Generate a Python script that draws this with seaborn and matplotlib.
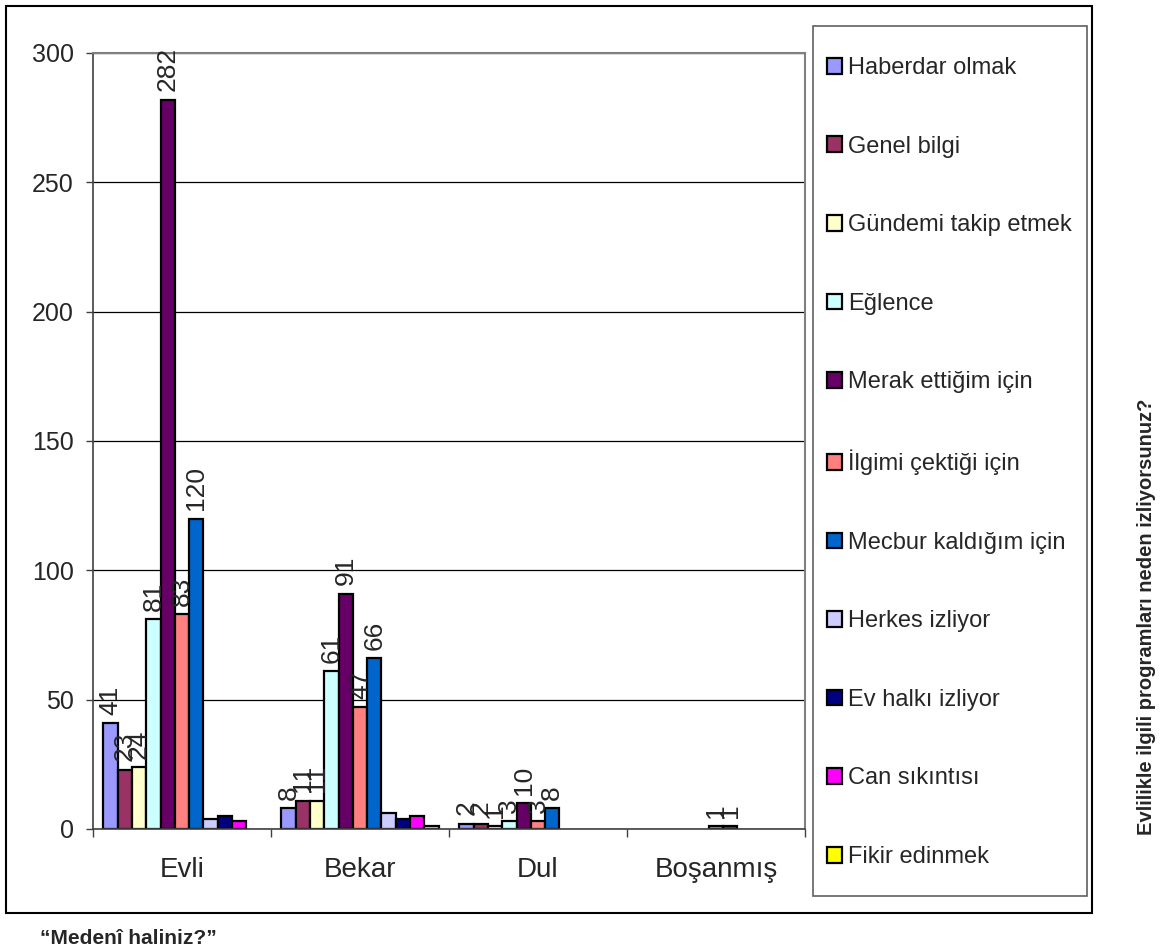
import pandas as pd
import numpy as np
import matplotlib
matplotlib.use("Agg")
import matplotlib.pyplot as plt
import seaborn as sns
from matplotlib.patches import Patch, Rectangle

# Categories (marital status) and answer series
groups = ["Evli", "Bekar", "Dul", "Boşanmış"]
reasons = ["Haberdar olmak", "Genel bilgi", "Gündemi takip etmek", "Eğlence",
           "Merak ettiğim için", "İlgimi çektiği için", "Mecbur kaldığım için",
           "Herkes izliyor", "Ev halkı izliyor", "Can sıkıntısı", "Fikir edinmek"]

# counts per reason, in group order Evli, Bekar, Dul, Boşanmış
haberdar = [41, 8, 2, 0]
genel = [23, 11, 2, 0]
gundem = [24, 11, 1, 0]
eglence = [81, 61, 3, 0]
merak = [282, 91, 10, 0]
ilgimi = [83, 47, 3, 1]
mecbur = [120, 66, 8, 1]
herkes = [4, 6, 0, 0]
evhalki = [5, 4, 0, 0]
can = [3, 5, 0, 0]
fikir = [0, 1, 0, 0]

colors = ["#9999FF", "#993366", "#FFFFCC", "#CCFFFF", "#660066", "#FF8080",
          "#0066CC", "#CCCCFF", "#000080", "#FF00FF", "#FFFF00"]
labelled = reasons[:7]

series = [haberdar, genel, gundem, eglence, merak, ilgimi, mecbur,
          herkes, evhalki, can, fikir]
rows = []
for r, vals in zip(reasons, series):
    for g, v in zip(groups, vals):
        rows.append({"group": g, "reason": r, "count": v})
df = pd.DataFrame(rows)

sns.set_style("white")
plt.rcParams['font.family'] = ['Liberation Sans', 'DejaVu Sans']

W, H = 1173, 952
fig = plt.figure(figsize=(W / 100, H / 100), dpi=100)
ax = fig.add_axes([93 / W, 1 - 829 / H, (805 - 93) / W, (829 - 53) / H])

sns.barplot(data=df, x="group", y="count", hue="reason", order=groups,
            hue_order=reasons, palette=colors, width=0.884, saturation=1,
            edgecolor="black", linewidth=1.6, legend=False, ax=ax, errorbar=None)

for cont, r in zip(ax.containers, reasons):
    for bar in cont:
        h = bar.get_height()
        if h == 0:
            bar.set_linewidth(0)
            continue
        if r in labelled:
            ax.annotate(f"{int(h)}", (bar.get_x() + bar.get_width() / 2, h),
                        xytext=(0, 6), textcoords="offset points",
                        rotation=90, ha="center", va="bottom", fontsize=19)

ax.set_ylim(0, 300)
ax.set_xlim(-0.5, len(groups) - 0.5)
ax.set_yticks(np.arange(0, 301, 50))
ax.yaxis.grid(True, color="black", linewidth=0.9)
ax.set_axisbelow(True)
ax.tick_params(axis="y", labelsize=18, length=5, width=1, color="#404040",
               direction="out", left=True, pad=9)

# category ticks between groups, labels at centers
ax.set_xticks(np.arange(-0.5, len(groups), 1.0))
ax.set_xticklabels([])
ax.set_xticks(np.arange(len(groups)), minor=True)
ax.set_xticklabels(groups, minor=True, fontsize=20)
ax.tick_params(axis="x", which="major", length=6, width=1, color="#404040",
               direction="out", bottom=True)
ax.tick_params(axis="x", which="minor", length=0, pad=20)
ax.set_xlabel("")
ax.set_ylabel("")

for s in ["left", "bottom"]:
    ax.spines[s].set_color("#404040")
    ax.spines[s].set_linewidth(1.2)
for s in ["top", "right"]:
    ax.spines[s].set_color("#808080")
    ax.spines[s].set_linewidth(1.5)

handles = [Patch(facecolor=c, edgecolor="black", linewidth=1.6) for c in colors]
leg = ax.legend(handles, reasons, loc="upper left",
                bbox_to_anchor=(827 / W, 1 - 57 / H),
                bbox_transform=fig.transFigure,
                fontsize=17, frameon=False,
                labelspacing=2.395, borderpad=0, handlelength=0.64,
                handleheight=0.64, handletextpad=0.25, borderaxespad=0)

# legend frame
fig.patches.append(Rectangle((813 / W, 1 - 896 / H), (1087 - 813) / W, (896 - 26) / H,
                             transform=fig.transFigure, fill=False,
                             edgecolor="#606060", linewidth=1.2))
# outer chart border
fig.patches.append(Rectangle((6 / W, 1 - 913 / H), (1092 - 6) / W, (913 - 6) / H,
                             transform=fig.transFigure, fill=False,
                             edgecolor="black", linewidth=1.5))

fig.text(1146 / W, 1 - 617 / H, "Evlilikle ilgili programları neden izliyorsunuz?",
         rotation=90, ha="center", va="center", fontsize=14.5, fontweight="bold")
fig.text(40 / W, 1 - 939 / H, "“Medenî haliniz?”", ha="left", va="center",
         fontsize=15, fontweight="bold")

fig.savefig("out.png", dpi=100)
